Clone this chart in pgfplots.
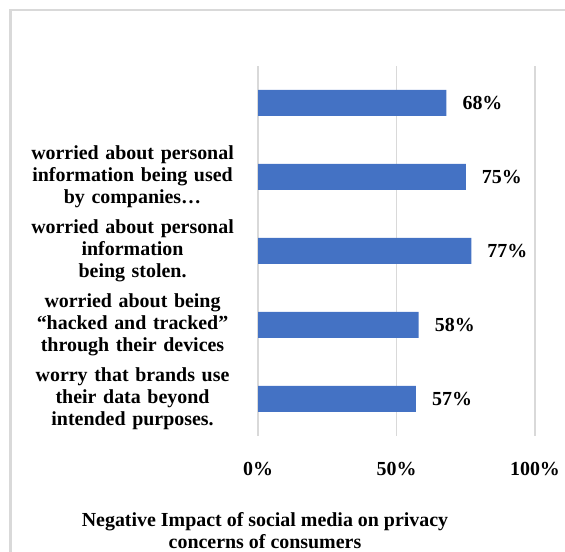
\documentclass[border=0pt]{standalone}
\usepackage{fontspec}
\setmainfont{Liberation Serif}
\usepackage{pgfplots}
\pgfplotsset{compat=1.18}
\definecolor{barblue}{HTML}{4472C4}
\definecolor{gridgray}{HTML}{D9D9D9}
\begin{document}
\begin{tikzpicture}
\path[use as bounding box] (0,0) rectangle (565bp,552bp);
\clip (0,0) rectangle (565bp,552bp);
\draw[gridgray, line width=2.5bp] (10.5bp,-5bp) -- (10.5bp,542bp) -- (575bp,542bp);
\begin{axis}[
  at={(258bp,116bp)}, anchor=south west,
  scale only axis, width=277bp, height=370bp,
  xbar, bar width=26bp,
  xmin=0, xmax=100, ymin=-0.5, ymax=4.5,
  axis line style={draw=none}, tick style={draw=none},
  xmajorgrids, major grid style={gridgray, line width=1.5bp},
  xtick={0,50,100}, xticklabels={0\%,50\%,100\%},
  ytick={0,1,2,3,4},
  yticklabels={
    {worry that brands use\\their data beyond\\intended purposes.},
    {worried about being\\“hacked and tracked”\\through their devices},
    {worried about personal\\information\\being stolen.},
    {worried about personal\\information being used\\by companies…},
    {}},
  yticklabel style={inner sep=0pt, text width=210bp, align=center, xshift=-16bp,
    font=\bfseries\fontsize{20}{22}\selectfont},
  xticklabel style={font=\bfseries\fontsize{20}{22}\selectfont, yshift=-23bp},
  /pgf/number format/assume math mode=true,
  nodes near coords={\pgfmathprintnumber{\pgfplotspointmeta}\%},
  nodes near coords style={font=\bfseries\fontsize{20}{22}\selectfont, inner sep=0pt, anchor=west, xshift=16bp, text=black},
]
\addplot[fill=barblue, draw=none] coordinates {(57,0) (58,1) (77,2) (75,3) (68,4)};
\end{axis}
\node[font=\bfseries\fontsize{20}{22}\selectfont, align=center] at (265bp,21bp)
  {Negative Impact of social media on privacy\\concerns of consumers};
\end{tikzpicture}
\end{document}
